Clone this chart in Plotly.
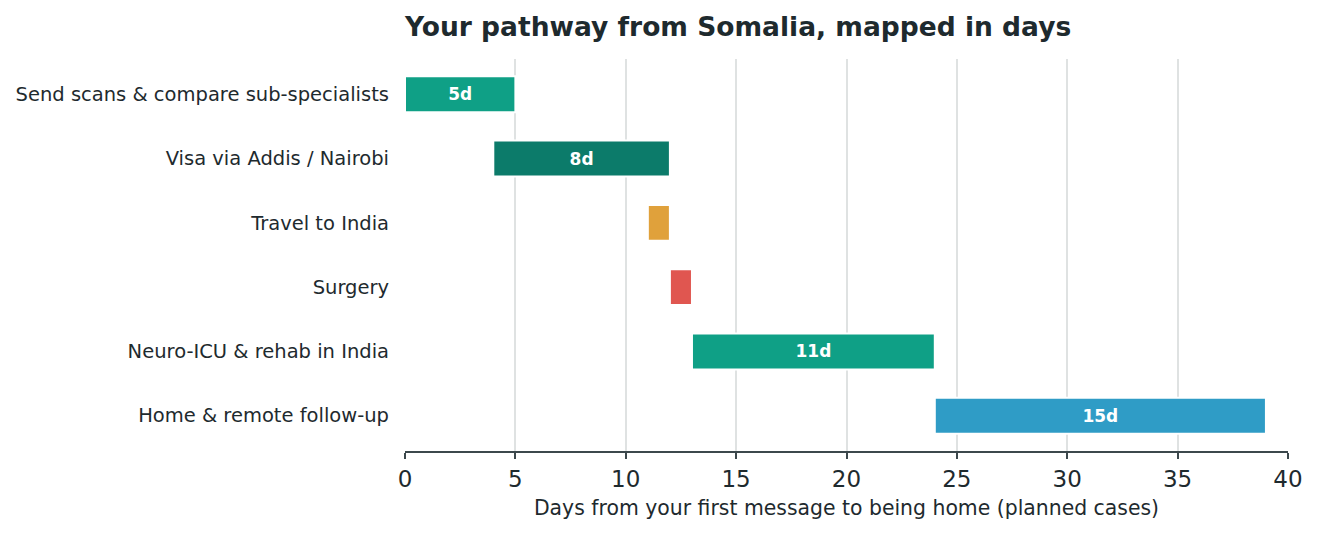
import plotly.graph_objects as go

steps = ["Send scans & compare sub-specialists", "Visa via Addis / Nairobi", "Travel to India",
         "Surgery", "Neuro-ICU & rehab in India", "Home & remote follow-up"]
start_day = [0, 4, 11, 12, 13, 24]
duration = [5, 8, 1, 1, 11, 15]
bar_labels = ["5d", "8d", "", "", "11d", "15d"]
colors = ["#0fa086", "#0c7b6a", "#e0a13b", "#e05650", "#0fa086", "#2f9cc6"]

FONT = "DejaVu Sans"
INK = "#1e2a2e"

fig = go.Figure(go.Bar(
    y=steps, x=duration, base=start_day, orientation="h",
    width=0.56,
    marker=dict(color=colors, line=dict(color="white", width=2)),
    text=bar_labels, textposition="inside", insidetextanchor="middle",
    textfont=dict(family=FONT, size=17, color="white", weight="bold"),
    textangle=0, cliponaxis=False, hoverinfo="skip",
))

# the page puts the figure 8px in from the top-left, margins account for that
fig.update_layout(
    width=1319, height=533,
    margin=dict(l=397, r=39, t=51, b=89.5),
    plot_bgcolor="white", paper_bgcolor="white",
    showlegend=False,
    font=dict(family=FONT, color=INK),
    title=dict(text="<b>Your pathway from Somalia, mapped in days</b>",
               font=dict(family=FONT, size=26.5, color=INK),
               xref="paper", x=0, xanchor="left",
               yref="container", y=1 - 19 / 533, yanchor="middle"),
)

fig.update_xaxes(
    range=[0, 40], tick0=0, dtick=5,
    showgrid=True, gridcolor="#dfe2e2", gridwidth=1.5,
    zeroline=False, automargin=False,
    showline=True, linecolor="#3c484c", linewidth=2,
    ticks="outside", ticklen=6, tickwidth=2, tickcolor="#3c484c",
    tickfont=dict(family=FONT, size=23, color=INK),
    title=dict(text="Days from your first message to being home (planned cases)",
               font=dict(family=FONT, size=20.4, color=INK), standoff=10),
)

fig.update_yaxes(
    categoryorder="array", categoryarray=steps,
    range=[5.55, -0.55], automargin=False,
    showgrid=False, zeroline=False, showline=False,
    ticks="", ticklabelstandoff=15,
    tickfont=dict(family=FONT, size=19.5, color=INK),
)

fig.write_html("out.html")
